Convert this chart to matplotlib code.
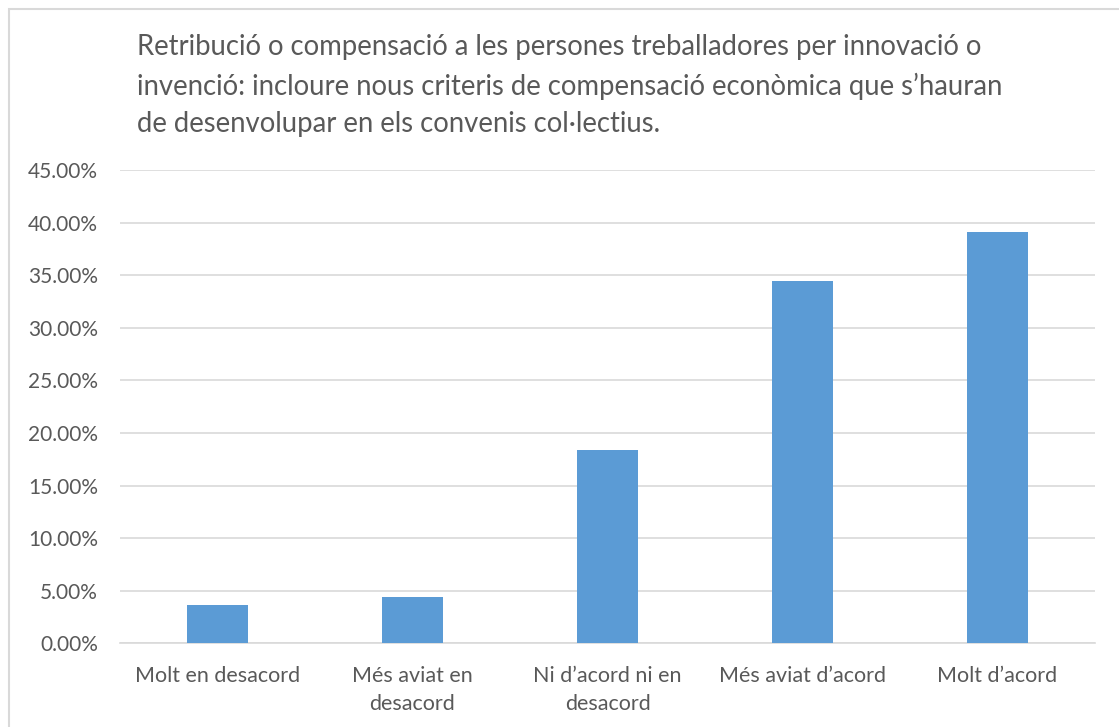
import matplotlib.pyplot as plt
from matplotlib.patches import Rectangle
from matplotlib.ticker import MultipleLocator, FuncFormatter

# Dades del gràfic
categories = ['Molt en desacord', 'Més aviat en\ndesacord', 'Ni d\u2019acord ni en\ndesacord',
              'Més aviat d\u2019acord', 'Molt d\u2019acord']
values = [3.60, 4.40, 18.40, 34.45, 39.15]
title = ('Retribució o compensació a les persones treballadores per innovació o\n'
         'invenció: incloure nous criteris de compensació econòmica que s\u2019hauran\n'
         'de desenvolupar en els convenis col·lectius.')

plt.rcParams['font.family'] = ['Lato', 'DejaVu Sans']
text_color = '#595959'
bar_color = '#5B9BD5'
grid_color = '#D9D9D9'

W, H = 1119, 727
fig = plt.figure(figsize=(W / 100, H / 100), dpi=100)
ax = fig.add_axes([120 / W, 1 - 643.3 / H, (1095 - 120) / W, (643.3 - 170) / H])

ax.bar(range(len(categories)), values, width=0.31, color=bar_color, zorder=3)
ax.set_xlim(-0.5, len(categories) - 0.5)
ax.set_ylim(0, 45)

# Eix Y
ax.yaxis.set_major_locator(MultipleLocator(5))
ax.yaxis.set_major_formatter(FuncFormatter(lambda v, p: f'{v:.2f}%'))
ax.grid(axis='y', color=grid_color, linewidth=1.2, zorder=0)
ax.tick_params(axis='y', length=0, pad=16, labelsize=15, labelcolor=text_color)

# Eix X
ax.set_xticks(range(len(categories)))
ax.set_xticklabels(categories, fontsize=15.5, color=text_color, linespacing=1.55)
ax.tick_params(axis='x', length=0, pad=16)

for s in ['top', 'right', 'left']:
    ax.spines[s].set_visible(False)
ax.spines['bottom'].set_color(grid_color)
ax.spines['bottom'].set_linewidth(1.2)

# Títol
fig.text(137 / W, 1 - 34 / H, title, ha='left', va='top', fontsize=19.8,
         color=text_color, linespacing=1.55)

# Vora del gràfic
fig.patches.append(Rectangle((8.5 / W, -0.1), 1.2, 1 - 8.5 / H + 0.1,
                             transform=fig.transFigure, fill=False,
                             edgecolor=grid_color, linewidth=1.5))

fig.savefig('out.png', dpi=100)
plt.close(fig)
